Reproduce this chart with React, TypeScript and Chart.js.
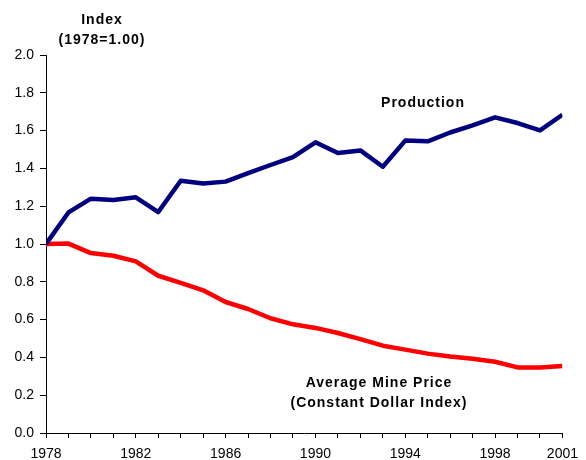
import React, { useEffect, useRef } from "react";
import { Chart, registerables } from "chart.js";

Chart.register(...registerables);

const years = [
  1978, 1979, 1980, 1981, 1982, 1983, 1984, 1985, 1986, 1987, 1988, 1989,
  1990, 1991, 1992, 1993, 1994, 1995, 1996, 1997, 1998, 1999, 2000, 2001,
];
const production = [
  1.0, 1.167, 1.24, 1.233, 1.247, 1.169, 1.335, 1.32, 1.33, 1.375, 1.418, 1.46,
  1.538, 1.481, 1.495, 1.409, 1.547, 1.543, 1.59, 1.628, 1.67, 1.64, 1.601, 1.684,
];
const minePrice = [
  1.0, 1.002, 0.952, 0.938, 0.908, 0.832, 0.794, 0.755, 0.693, 0.656, 0.607, 0.575,
  0.556, 0.529, 0.497, 0.462, 0.441, 0.42, 0.405, 0.393, 0.377, 0.347, 0.346, 0.354,
];
const labeledYears = [1978, 1982, 1986, 1990, 1994, 1998, 2001];
const yTicks = [0, 0.2, 0.4, 0.6, 0.8, 1.0, 1.2, 1.4, 1.6, 1.8, 2.0];

const annotations = [
  { lines: ["Index", "(1978=1.00)"], x: 102, y: 24, gap: 20 },
  { lines: ["Production"], x: 423, y: 107, gap: 0 },
  { lines: ["Average Mine Price", "(Constant Dollar Index)"], x: 379, y: 387, gap: 20 },
];

const textPlugin = {
  id: "textAnnotations",
  afterDraw(chart: any) {
    const ctx = chart.ctx;
    ctx.save();
    ctx.fillStyle = "#000";
    ctx.font = "bold 14px 'Liberation Sans', Arial, sans-serif";
    try {
      (ctx as any).letterSpacing = "1px";
    } catch (e) {}
    ctx.textAlign = "center";
    ctx.textBaseline = "alphabetic";
    annotations.forEach((a) => {
      a.lines.forEach((line, i) => {
        ctx.fillText(line, a.x, a.y + i * a.gap);
      });
    });
    ctx.restore();
  },
};

export default function App() {
  const ref = useRef<HTMLCanvasElement | null>(null);
  useEffect(() => {
    if (!ref.current) return;
    const font = { family: "'Liberation Sans', Arial, sans-serif", size: 14 };
    const chart = new Chart(ref.current, {
      type: "line",
      data: {
        datasets: [
          {
            label: "Production",
            data: years.map((yr, i) => ({ x: yr, y: production[i] })),
            borderColor: "#000080",
            backgroundColor: "#000080",
            borderWidth: 4.5,
            pointRadius: 0,
            tension: 0,
            borderJoinStyle: "round",
          },
          {
            label: "Average Mine Price",
            data: years.map((yr, i) => ({ x: yr, y: minePrice[i] })),
            borderColor: "#FF0000",
            backgroundColor: "#FF0000",
            borderWidth: 4.5,
            pointRadius: 0,
            tension: 0,
            borderJoinStyle: "round",
          },
        ],
      },
      options: {
        responsive: false,
        animation: false,
        events: [],
        layout: { padding: { top: 55, right: 23, left: 0, bottom: 0 } },
        plugins: { legend: { display: false }, tooltip: { enabled: false } },
        scales: {
          x: {
            type: "linear",
            min: 1978,
            max: 2001,
            afterFit: (s: any) => {
              s.height = 27;
            },
            afterBuildTicks: (s: any) => {
              s.ticks = years.map((v) => ({ value: v }));
            },
            ticks: {
              autoSkip: false,
              maxRotation: 0,
              minRotation: 0,
              padding: 8,
              color: "#000",
              font,
              callback: (v: any) => (labeledYears.includes(Number(v)) ? String(v) : ""),
            },
            grid: {
              display: true,
              drawOnChartArea: false,
              drawTicks: true,
              tickLength: 5,
              color: "#000",
              tickColor: "#000",
            },
            border: { display: true, color: "#000", width: 1 },
          },
          y: {
            min: 0,
            max: 2,
            afterFit: (s: any) => {
              s.width = 46;
            },
            afterBuildTicks: (s: any) => {
              s.ticks = yTicks.map((v) => ({ value: v }));
            },
            ticks: {
              padding: 6,
              color: "#000",
              font,
              callback: (v: any) => Number(v).toFixed(1),
            },
            grid: {
              display: true,
              drawOnChartArea: false,
              drawTicks: true,
              tickLength: 6,
              color: "#000",
              tickColor: "#000",
            },
            border: { display: true, color: "#000", width: 1 },
          },
        },
      },
      plugins: [textPlugin],
    } as any);
    return () => chart.destroy();
  }, []);
  return (
    <div style={{ position: "fixed", left: 0, top: 0, width: 586, height: 460, background: "#fff" }}>
      <canvas ref={ref} width={586} height={460} style={{ display: "block" }} />
    </div>
  );
}
